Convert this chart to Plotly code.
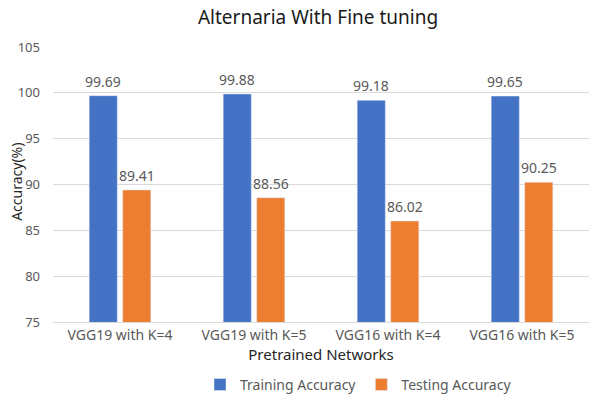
import plotly.graph_objects as go

networks = ["VGG19 with K=4", "VGG19 with K=5", "VGG16 with K=4", "VGG16 with K=5"]
training_acc = [99.69, 99.88, 99.18, 99.65]
testing_acc = [89.41, 88.56, 86.02, 90.25]
y_ticks = [75, 80, 85, 90, 95, 100, 105]

FONT = "Noto Sans"
GREY = "#595959"
BARGAP = 0.5

fig = go.Figure()
fig.add_trace(go.Bar(x=networks, y=training_acc, name="Training Accuracy",
                     marker_color="#4472C4"))
fig.add_trace(go.Bar(x=networks, y=testing_acc, name="Testing Accuracy",
                     marker_color="#ED7D31"))

# value labels above each bar, shifted to the bar's slot within its group
plot_w = 589 - 53
slot_px = plot_w / len(networks) * (1 - BARGAP) / 2
annotations = []
for series, sign in ((training_acc, -1), (testing_acc, 1)):
    for cat, val in zip(networks, series):
        annotations.append(dict(
            x=cat, y=val, xref="x", yref="y", text=f"{val:.2f}",
            showarrow=False, xanchor="center", yanchor="bottom",
            xshift=sign * slot_px / 2, yshift=3,
            font=dict(size=14, color=GREY, family=FONT),
        ))
annotations.append(dict(
    text="Accuracy(%)", textangle=-90, xref="paper", yref="paper",
    x=-0.067, y=0.51, xanchor="center", yanchor="middle", showarrow=False,
    font=dict(size=14, color="#262626", family=FONT),
))

fig.update_layout(
    width=589, height=396,
    margin=dict(l=53, r=0, t=47, b=74, autoexpand=False),
    paper_bgcolor="white", plot_bgcolor="white",
    font=dict(family=FONT, color=GREY, size=13),
    title=dict(text="Alternaria With Fine tuning", x=0.54, xanchor="center",
               y=0.955, yanchor="middle",
               font=dict(size=19, color="#1a1a1a", family=FONT)),
    barmode="group", bargap=BARGAP, bargroupgap=0.16,
    xaxis=dict(
        showgrid=False, showline=True, linecolor="#d9d9d9", linewidth=1,
        tickfont=dict(size=14, color=GREY), ticks="", automargin=False,
        title=dict(text="Pretrained Networks", font=dict(size=15, color="#262626"),
                   standoff=6),
    ),
    yaxis=dict(
        range=[75, 105], tickvals=y_ticks, showgrid=True, gridcolor="#d9d9d9",
        zeroline=False, showline=False, ticks="", automargin=False,
        tickfont=dict(size=13, color=GREY), ticklabelstandoff=12,
    ),
    legend=dict(orientation="h", x=0.57, xanchor="center",
                yref="container", y=0.028, yanchor="middle",
                font=dict(size=14, color=GREY), itemwidth=30,
                traceorder="normal"),
    annotations=annotations,
)

fig.write_html("out.html")
